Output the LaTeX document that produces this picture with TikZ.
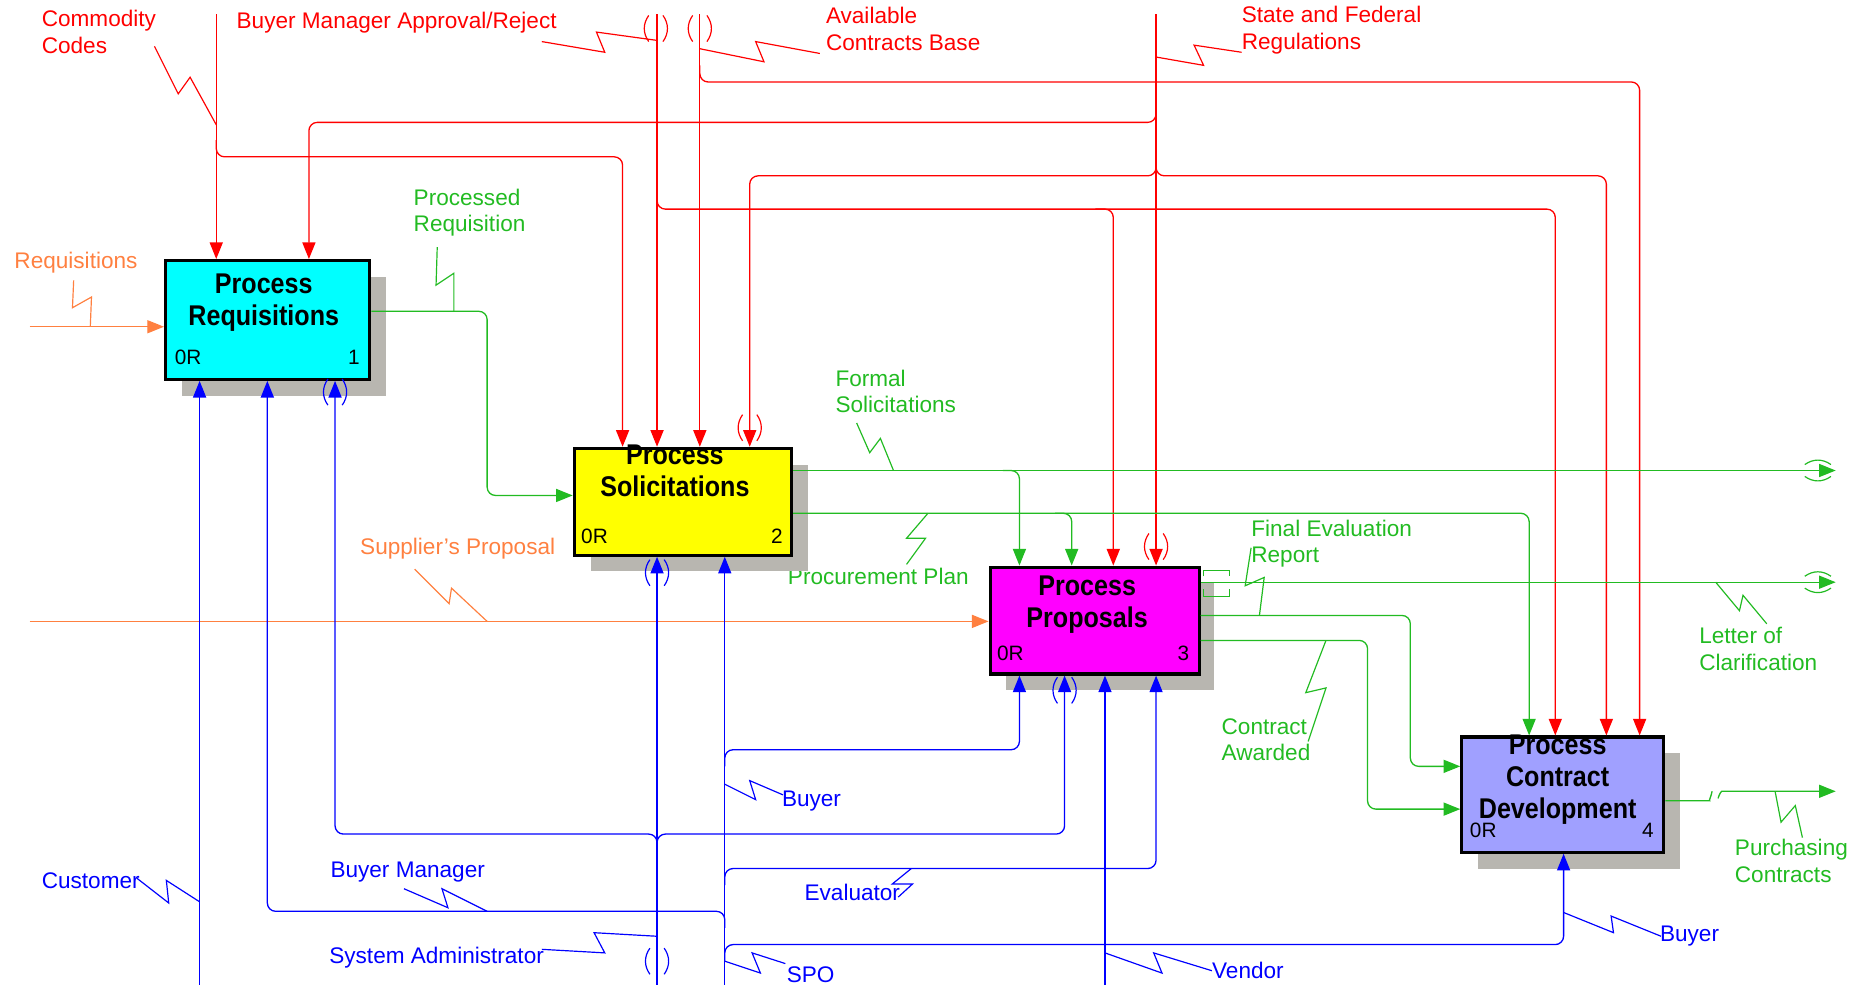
\documentclass[tikz,border=0pt]{standalone}
\usepackage{fontspec}
\setmainfont{Liberation Sans}
\newfontfamily\titlefont[FakeStretch=0.88]{Liberation Sans}
\usetikzlibrary{arrows.meta}
\definecolor{cred}{RGB}{255,0,0}
\definecolor{corange}{RGB}{255,128,64}
\definecolor{cgreen}{RGB}{34,187,34}
\definecolor{cblue}{RGB}{0,0,255}
\definecolor{cshadow}{RGB}{184,182,176}
\definecolor{bcyan}{RGB}{0,255,255}
\definecolor{byellow}{RGB}{255,255,0}
\definecolor{bmagenta}{RGB}{255,0,255}
\definecolor{bperi}{RGB}{160,160,255}
\begin{document}
\begin{tikzpicture}[x=1pt,y=-1pt,
  conn/.style={line width=1.1pt, rounded corners=7pt},
  tip/.style={-{Triangle[length=14pt,width=11pt]}},
  lead/.style={line width=1pt},
  act/.style={draw=black, line width=2.6pt, inner sep=0pt, anchor=north west},
  ttl/.style={font=\titlefont\bfseries\fontsize{24}{27}\selectfont, align=center, inner sep=0pt},
  crn/.style={font=\fontsize{17.5}{20}\selectfont, inner sep=0pt},
  lab/.style={font=\fontsize{19}{22.5}\selectfont, align=left, anchor=west, inner sep=0pt},
  tunv/.pic={\draw[line width=1pt] (-6,-11) .. controls (-11,-4) and (-11,4) .. (-6,11);
             \draw[line width=1pt] (6,-11) .. controls (11,-4) and (11,4) .. (6,11);},
  tunh/.pic={\draw[line width=1pt] (-11,-5) .. controls (-4,-10) and (4,-10) .. (11,-5);
             \draw[line width=1pt] (-11,5) .. controls (-4,10) and (4,10) .. (11,5);}
]
\useasboundingbox (0,0) rectangle (1568,829);

% labels
\node[lab,cred] (lcc) at (35,27) {Commodity\\Codes};
\node[lab,cred] (lbm) at (199,19) {Buyer Manager Approval/Reject};
\node[lab,cred] (lac) at (695,24.5) {Available\\Contracts Base};
\node[lab,cred] (lsf) at (1045,25.5) {State and Federal\\Regulations};
\node[lab,corange] (lrq) at (12,221) {Requisitions};
\node[lab,cgreen] (lpr) at (348,179) {Processed\\Requisition};
\node[lab,cgreen] (lfs) at (703,329.5) {Formal\\Solicitations};
\node[lab,corange] (lsp) at (303,462) {Supplier's Proposal};
\node[lab,cgreen] (lpp) at (663,485) {Procurement Plan};
\node[lab,cgreen] (lfe) at (1053,457.5) {Final Evaluation\\Report};
\node[lab,cgreen] (llc) at (1430,546) {Letter of\\Clarification};
\node[lab,cgreen] (lca) at (1028,622.5) {Contract\\Awarded};
\node[lab,cgreen] (lpc) at (1460,724.5) {Purchasing\\Contracts};
\node[lab,cblue] (lcu) at (35,741) {Customer};
\node[lab,cblue] (lbmg) at (278,734) {Buyer Manager};
\node[lab,cblue] (lb1) at (658,674) {Buyer};
\node[lab,cblue] (lev) at (677,751) {Evaluator};
\node[lab,cblue] (lsa) at (277,806) {System Administrator};
\node[lab,cblue] (lspo) at (662,820) {SPO};
\node[lab,cblue] (lve) at (1020,817) {Vendor};
\node[lab,cblue] (lb2) at (1397,788) {Buyer};

% shadows
\fill[cshadow] (153,233) rectangle (325,333);
\fill[cshadow] (497,391) rectangle (680,481);
\fill[cshadow] (847,491) rectangle (1022,581);
\fill[cshadow] (1244,634) rectangle (1414,731);

% boxes
\node[act, fill=bcyan, minimum width=172pt, minimum height=100pt] (B1) at (138,218) {};
\node[act, fill=byellow, minimum width=183pt, minimum height=90pt] (B2) at (482,376) {};
\node[act, fill=bmagenta, minimum width=176pt, minimum height=90pt] (B3) at (832,476) {};
\node[act, fill=bperi, minimum width=170pt, minimum height=97pt] (B4) at (1229,619) {};

% titles
\node[ttl] (t1) at (222,254.5) {Process\\Requisitions};
\node[ttl] (t2) at (568,396.5) {Process\\Solicitations};
\node[ttl] (t3) at (915,509) {Process\\Proposals};
\node[ttl] (t4) at (1311,656) {Process\\Contract\\Development};
\node[crn,anchor=west] (n1a) at (147,301) {0R};
\node[crn,anchor=east] (n1b) at (303,301) {1};
\node[crn,anchor=west] (n2a) at (489,451) {0R};
\node[crn,anchor=east] (n2b) at (659,451) {2};
\node[crn,anchor=west] (n3a) at (839,550) {0R};
\node[crn,anchor=east] (n3b) at (1001,550) {3};
\node[crn,anchor=west] (n4a) at (1237,699) {0R};
\node[crn,anchor=east] (n4b) at (1392,699) {4};

% ---- red controls
\coordinate (cc) at (182,12);
\draw[conn,tip,cred] (cc) -- (cc |- B1.north);
\draw[conn,tip,cred] (182,118) -- (182,132) -- (524,132) -- (524,0 |- B2.north);
\coordinate (bm) at (553,12);
\draw[conn,tip,cred] (bm) -- (bm |- B2.north);
\draw[conn,tip,cred] (553,162) -- (553,176) -- (1309,176) -- (1309,0 |- B4.north);
\draw[conn,tip,cred] (922,176) -- (937,176) -- (937,0 |- B3.north);
\coordinate (ac) at (589,12);
\draw[conn,tip,cred] (ac) -- (ac |- B2.north);
\draw[conn,tip,cred] (589,55) -- (589,69) -- (1380,69) -- (1380,0 |- B4.north);
\coordinate (sf) at (973,12);
\draw[conn,tip,cred] (sf) -- (sf |- B3.north);
\draw[conn,tip,cred] (973,89) -- (973,103) -- (260,103) -- (260,0 |- B1.north);
\draw[conn,tip,cred] (973,134) -- (973,148) -- (631,148) -- (631,0 |- B2.north);
\draw[conn,tip,cred] (973,134) -- (973,148) -- (1352,148) -- (1352,0 |- B4.north);
\pic[cred] at (552,24) {tunv};
\pic[cred] at (589,24) {tunv};
\pic[cred] at (631,360) {tunv};
\pic[cred] at (973,460) {tunv};
% red leaders
\draw[lead,cred] (130,39) -- (150,79) -- (160,65) -- (182,105);
\draw[lead,cred] (456,35) -- (509,44) -- (502,27) -- (553,34);
\draw[lead,cred] (589,41) -- (643,52) -- (636,35) -- (690,45);
\draw[lead,cred] (973,48) -- (1013,55) -- (1005,38) -- (1045,44);

% ---- orange inputs
\coordinate (rq) at (25,275);
\draw[conn,tip,corange] (rq) -- (rq -| B1.west);
\coordinate (sp) at (25,523);
\draw[conn,tip,corange] (sp) -- (sp -| B3.west);
\draw[lead,corange] (76,275) -- (77,250) -- (61,259) -- (62,236);
\draw[lead,corange] (349,479) -- (378,508) -- (380,495) -- (410,523);

% ---- green outputs
\draw[conn,tip,cgreen] (B1.east |- 0,262) -- (410,262) -- (410,417) -- (B2.west |- 0,417);
\coordinate (fs) at (1545,396);
\draw[conn,tip,cgreen] (B2.east |- fs) -- (fs);
\draw[conn,tip,cgreen] (844,396) -- (858,396) -- (858,0 |- B3.north);
\draw[conn,tip,cgreen] (B2.east |- 0,432) -- (1287,432) -- (1287,0 |- B4.north);
\draw[conn,tip,cgreen] (888,432) -- (902,432) -- (902,0 |- B3.north);
\coordinate (lc) at (1545,490);
\draw[conn,tip,cgreen] (B3.east |- lc) -- (lc);
\draw[conn,tip,cgreen] (B3.east |- 0,518) -- (1187,518) -- (1187,645) -- (B4.west |- 0,645);
\draw[conn,tip,cgreen] (B3.east |- 0,539) -- (1151,539) -- (1151,681) -- (B4.west |- 0,681);
\coordinate (pc) at (1545,666);
\draw[conn,cgreen] (B4.east |- 0,674) -- (1432,674) .. controls (1438,674) and (1440,671) .. (1441,666);
\draw[conn,tip,cgreen] (1446,672) .. controls (1447,668) and (1449,666) .. (1456,666) -- (pc);
\pic[cgreen] at (1530,396) {tunh};
\pic[cgreen] at (1530,490) {tunh};
\draw[lead,cgreen] (1013,485) -- (1013,480) -- (1035,480) -- (1035,485);
\draw[lead,cgreen] (1013,496) -- (1013,502) -- (1035,502) -- (1035,496);
% green leaders
\draw[lead,cgreen] (368,208) -- (367,240) -- (382,230) -- (382,262);
\draw[lead,cgreen] (721,356) -- (732,381) -- (741,369) -- (752,396);
\draw[lead,cgreen] (781,432) -- (763,453) -- (779,453) -- (763,475);
\draw[lead,cgreen] (1053,461) -- (1048,493) -- (1064,486) -- (1060,518);
\draw[lead,cgreen] (1444,490) -- (1464,514) -- (1467,501) -- (1487,525);
\draw[lead,cgreen] (1116,539) -- (1099,583) -- (1116,579) -- (1101,624);
\draw[lead,cgreen] (1494,666) -- (1499,692) -- (1511,678) -- (1517,705);

% ---- blue mechanisms
\coordinate (cu) at (168,829);
\draw[conn,tip,cblue] (cu) -- (cu |- B1.south);
\coordinate (sa) at (553,829);
\draw[conn,tip,cblue] (sa) -- (sa |- B2.south);
\draw[conn,tip,cblue] (553,716) -- (553,702) -- (282,702) -- (282,0 |- B1.south);
\draw[conn,tip,cblue] (553,716) -- (553,702) -- (896,702) -- (896,0 |- B3.south);
\coordinate (by) at (610,829);
\draw[conn,tip,cblue] (by) -- (by |- B2.south);
\draw[conn,tip,cblue] (610,645) -- (610,631) -- (858,631) -- (858,0 |- B3.south);
\draw[conn,tip,cblue] (610,745) -- (610,731) -- (973,731) -- (973,0 |- B3.south);
\draw[conn,tip,cblue] (610,781) -- (610,767) -- (225,767) -- (225,0 |- B1.south);
\draw[conn,tip,cblue] (610,809) -- (610,795) -- (1316,795) -- (1316,0 |- B4.south);
\coordinate (ve) at (930,829);
\draw[conn,tip,cblue] (ve) -- (ve |- B3.south);
\pic[cblue] at (282,330) {tunv};
\pic[cblue] at (553,482) {tunv};
\pic[cblue] at (896,581) {tunv};
\pic[cblue] at (553,809) {tunv};
% blue leaders
\draw[lead,cblue] (115,739) -- (142,760) -- (140,741) -- (168,759);
\draw[lead,cblue] (340,748) -- (377,764) -- (372,748) -- (410,767);
\draw[lead,cblue] (456,799) -- (509,802) -- (500,785) -- (553,788);
\draw[lead,cblue] (610,660) -- (636,673) -- (631,657) -- (659,669);
\draw[lead,cblue] (767,731) -- (751,744) -- (768,744) -- (756,755);
\draw[lead,cblue] (610,809) -- (640,819) -- (633,802) -- (661,811);
\draw[lead,cblue] (930,802) -- (978,819) -- (971,802) -- (1020,817);
\draw[lead,cblue] (1316,768) -- (1358,785) -- (1356,771) -- (1398,788);
\end{tikzpicture}
\end{document}
